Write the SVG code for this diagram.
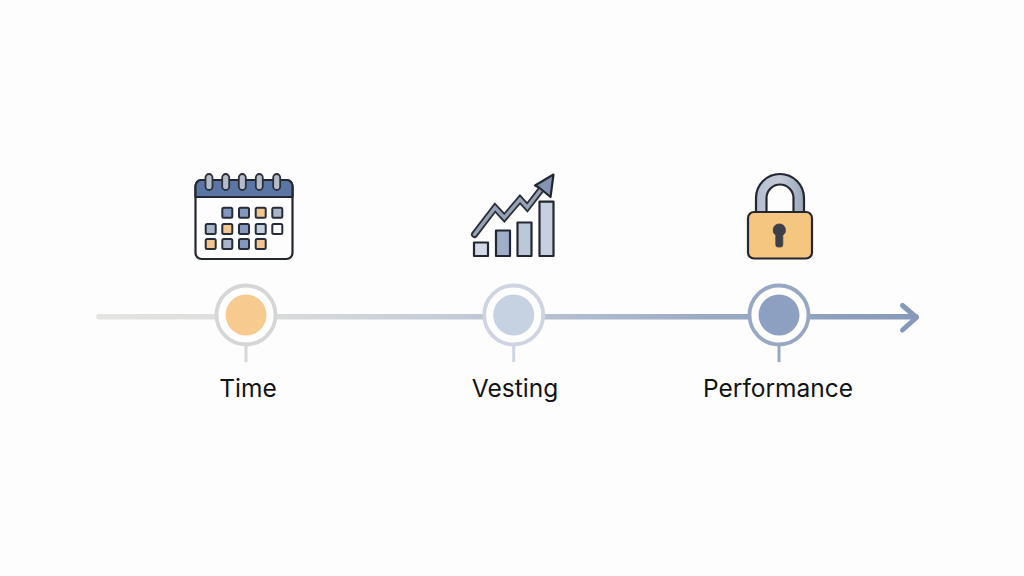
<svg xmlns="http://www.w3.org/2000/svg" width="1024" height="576" viewBox="0 0 1024 576">
<style>
.lbl{font-family:"Inter","Liberation Sans",sans-serif;font-size:24.500px;fill:#111317;text-anchor:middle}
.out{stroke:#23272f;stroke-width:2.200;stroke-linejoin:round}
.c{stroke:#262c38;stroke-width:2}
.b{fill:#8496bb}.g{fill:#a9b5c9}.o{fill:#f2c78f}.l{fill:#c3cede}.w{fill:#fbfbfc}
.ring{fill:#fefefe;stroke-width:3.800}
.stem{stroke-width:3;fill:none}
</style>
<defs>
<linearGradient id="axis" gradientUnits="userSpaceOnUse" x1="97" y1="0" x2="918" y2="0">
<stop offset="0" stop-color="#e4e4e0"/><stop offset="0.2" stop-color="#dbdddd"/><stop offset="0.5" stop-color="#bcc6d5"/><stop offset="0.75" stop-color="#9aa9c3"/><stop offset="1" stop-color="#8699b8"/>
</linearGradient>
<linearGradient id="shackle" x1="0" y1="0" x2="1" y2="0">
<stop offset="0" stop-color="#b5bece"/><stop offset="0.5" stop-color="#c4cbd8"/><stop offset="1" stop-color="#9aa6ba"/>
</linearGradient>
</defs>
<rect width="1024" height="576" fill="#fdfdfd"/>
<g id="connectors" fill="none">
<path d="M99 316.700H916" stroke="url(#axis)" stroke-width="5.500" stroke-linecap="round"/>
<path d="M902.500 305.500L916.500 317.500L902.500 330" stroke="#8699b8" stroke-width="5" stroke-linecap="round" stroke-linejoin="round"/>
</g>
<g id="node-time">
<circle cx="246" cy="315" r="29.500" class="ring" stroke="#d5d6d6"/>
<circle cx="246" cy="315" r="20.500" fill="#f7ca8f"/>
<path d="M246 346V362" class="stem" stroke="#d5d6d6"/>
<text x="248" y="397" class="lbl">Time</text>
</g>
<g id="node-vesting">
<circle cx="513.700" cy="315" r="29.500" class="ring" stroke="#ced5e0"/>
<circle cx="513.700" cy="315" r="20.500" fill="#c6d1e2"/>
<path d="M513.700 346V362" class="stem" stroke="#ced5e0"/>
<text x="515" y="397" class="lbl">Vesting</text>
</g>
<g id="node-performance">
<circle cx="779" cy="315" r="29.500" class="ring" stroke="#98a8c3"/>
<circle cx="779" cy="315" r="20.500" fill="#8ea0c1"/>
<path d="M779 346V362" class="stem" stroke="#98a8c3"/>
<text x="778" y="397" class="lbl">Performance</text>
</g>
<g id="icon-calendar">
<rect x="195.500" y="180" width="97" height="79" rx="6" fill="#fdfdfd" class="out"/>
<path d="M195.500 197V186a6 6 0 0 1 6-6h85a6 6 0 0 1 6 6v11z" fill="#5b75a5" class="out"/>
<g fill="#b5bcc9" stroke="#2a2f38" stroke-width="1.800">
<rect x="205.500" y="174" width="7" height="16" rx="3.500"/>
<rect x="222.200" y="174" width="7" height="16" rx="3.500"/>
<rect x="238.800" y="174" width="7" height="16" rx="3.500"/>
<rect x="255.800" y="174" width="7" height="16" rx="3.500"/>
<rect x="273.200" y="174" width="7" height="16" rx="3.500"/>
</g>
<rect x="222.300" y="207.700" width="10" height="10" rx="1.500" class="c b"/>
<rect x="239" y="207.700" width="10" height="10" rx="1.500" class="c b"/>
<rect x="255.700" y="207.700" width="10" height="10" rx="1.500" class="c o"/>
<rect x="272.300" y="207.700" width="10" height="10" rx="1.500" class="c g"/>
<rect x="205.700" y="224" width="10" height="10" rx="1.500" class="c g"/>
<rect x="222.300" y="224" width="10" height="10" rx="1.500" class="c o"/>
<rect x="239" y="224" width="10" height="10" rx="1.500" class="c b"/>
<rect x="255.700" y="224" width="10" height="10" rx="1.500" class="c l"/>
<rect x="272.300" y="224" width="10" height="10" rx="1.500" class="c w"/>
<rect x="205.700" y="239" width="10" height="10" rx="1.500" class="c o"/>
<rect x="222.300" y="239" width="10" height="10" rx="1.500" class="c g"/>
<rect x="239" y="239" width="10" height="10" rx="1.500" class="c b"/>
<rect x="255.700" y="239" width="10" height="10" rx="1.500" class="c o"/>
</g>
<g id="icon-chart">
<rect x="474" y="242.500" width="14" height="13.500" fill="#d3d9e5" class="out"/>
<rect x="496" y="230.500" width="14" height="25.500" fill="#9fadc9" class="out"/>
<rect x="517.500" y="222.500" width="14" height="33.500" fill="#bcc7da" class="out"/>
<rect x="539.500" y="201.700" width="14" height="54.300" fill="#c6d0e1" class="out"/>
<path d="M474.500 234.500L495 207.700L504.300 217.700L520 199.300L527.300 207.300L543 187" fill="none" stroke="#2b3038" stroke-width="7" stroke-linecap="round" stroke-linejoin="miter"/>
<path d="M474.500 234.500L495 207.700L504.300 217.700L520 199.300L527.300 207.300L543 187" fill="none" stroke="#97a2b6" stroke-width="3.400" stroke-linecap="round" stroke-linejoin="miter"/>
<path d="M553.500 174.500L535 185.500L539 187.500L550.500 197Z" fill="#8594b3" class="out"/>
</g>
<g id="icon-lock">
<path d="M756 212V198a24 24 0 0 1 48 0V212H793.500V198a13.500 13.500 0 0 0-27 0V212Z" fill="url(#shackle)" class="out"/>
<rect x="748" y="212" width="64" height="46.500" rx="6" fill="#f5c67f" class="out"/>
<path d="M779.300 224a6.200 6.200 0 0 1 3.500 11.300v9.500a2.200 2.200 0 0 1-2.200 2.200h-2.600a2.200 2.200 0 0 1-2.200-2.200v-9.500a6.200 6.200 0 0 1 3.500-11.300Z" fill="#3c3f47" stroke="#3c3f47" stroke-width="0.800"/>
</g>
</svg>
